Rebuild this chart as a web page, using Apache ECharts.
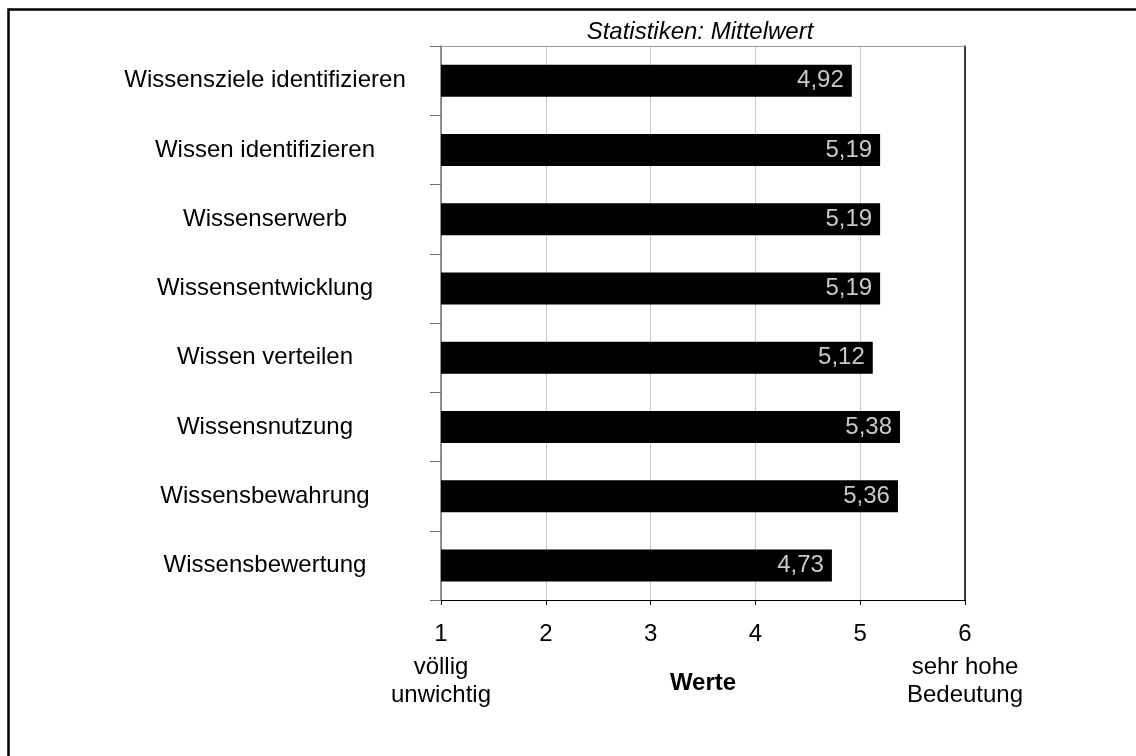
<!DOCTYPE html>
<html>
<head>
<meta charset="utf-8">
<script src="https://cdn.jsdelivr.net/npm/echarts@6/dist/echarts.min.js"></script>
<style>
  html, body { margin: 0; padding: 0; background: #fff; overflow: hidden; }
  #chart { width: 1136px; height: 756px; }
</style>
</head>
<body>
<div id="chart"></div>
<script>
// Bewertung der Wissensbausteine (Mittelwerte, Skala 1–6)
const categories = [
  'Wissensziele identifizieren',
  'Wissen identifizieren',
  'Wissenserwerb',
  'Wissensentwicklung',
  'Wissen verteilen',
  'Wissensnutzung',
  'Wissensbewahrung',
  'Wissensbewertung'
];
const meanValues = [4.92, 5.19, 5.19, 5.19, 5.12, 5.38, 5.36, 4.73];
const scaleTicks = [1, 2, 3, 4, 5, 6];
const scaleEndLabels = { 1: ['völlig', 'unwichtig'], 6: ['sehr hohe', 'Bedeutung'] };
const chartTitle = 'Statistiken: Mittelwert';
const valueAxisName = 'Werte';

const FONT = '"Liberation Sans", Arial, sans-serif';

const chart = echarts.init(document.getElementById('chart'), null, { renderer: 'canvas' });

function formatComma(v) {
  return v.toFixed(2).replace('.', ',');
}

chart.setOption({
  animation: false,
  backgroundColor: '#fff',
  title: {
    text: chartTitle,
    left: 695,
    top: 15,
    textAlign: 'center',
    textStyle: { fontFamily: FONT, fontSize: 24, fontStyle: 'italic', fontWeight: 'normal', color: '#000' }
  },
  // outer frame: only its left and top edges fall inside the page
  graphic: [{
    type: 'polyline',
    shape: { points: [[8.5, 800], [8.5, 9.5], [1200, 9.5]] },
    style: { fill: 'none', stroke: '#000', lineWidth: 2.5 },
    silent: true
  }],
  grid: { left: 441, right: 171, top: 46, bottom: 156, containLabel: false },
  xAxis: [{
    type: 'value',
    min: scaleTicks[0],
    max: scaleTicks[scaleTicks.length - 1],
    interval: 1,
    position: 'bottom',
    name: valueAxisName,
    nameLocation: 'middle',
    nameGap: 71,
    nameMoveOverlap: false,
    nameTextStyle: { fontFamily: FONT, fontSize: 24, fontWeight: 'bold', color: '#000' },
    axisLine: { show: true, lineStyle: { color: '#000', width: 1 } },
    axisTick: { show: true, length: 5, lineStyle: { color: '#000' } },
    splitLine: { show: true, lineStyle: { color: '#c8c8c8', width: 1 } },
    axisLabel: {
      margin: 15,
      formatter: function (v) {
        const extra = scaleEndLabels[v];
        let s = '{n|' + v + '}';
        if (extra) s += '\n{d|' + extra[0] + '}\n{d|' + extra[1] + '}';
        return s;
      },
      rich: {
        n: { fontFamily: FONT, fontSize: 24, color: '#000', lineHeight: 38 },
        d: { fontFamily: FONT, fontSize: 24, color: '#000', lineHeight: 28 }
      }
    }
  }, {
    type: 'value',
    min: scaleTicks[0],
    max: scaleTicks[scaleTicks.length - 1],
    position: 'top',
    axisLine: { show: true, lineStyle: { color: '#999', width: 1 } },
    axisTick: { show: false },
    axisLabel: { show: false },
    splitLine: { show: false }
  }],
  yAxis: [{
    type: 'category',
    data: categories,
    inverse: true,
    axisLine: { show: true, lineStyle: { color: '#707070', width: 1.5 } },
    axisTick: { show: true, length: 11, lineStyle: { color: '#707070' } },
    splitLine: { show: false },
    axisLabel: {
      align: 'center',
      margin: 176,
      fontFamily: FONT,
      fontSize: 24,
      color: '#000'
    }
  }, {
    type: 'value',
    position: 'right',
    axisLine: { show: true, onZero: false, lineStyle: { color: '#000', width: 1.5 } },
    axisTick: { show: false },
    axisLabel: { show: false },
    splitLine: { show: false }
  }],
  series: [{
    type: 'bar',
    xAxisIndex: 0,
    yAxisIndex: 0,
    data: meanValues,
    barWidth: 32,
    itemStyle: { color: '#000' },
    label: {
      show: true,
      position: 'insideRight',
      distance: 8,
      formatter: function (p) { return formatComma(p.value); },
      fontFamily: FONT,
      fontSize: 24,
      color: '#c8c8c8'
    }
  }]
});
</script>
</body>
</html>
